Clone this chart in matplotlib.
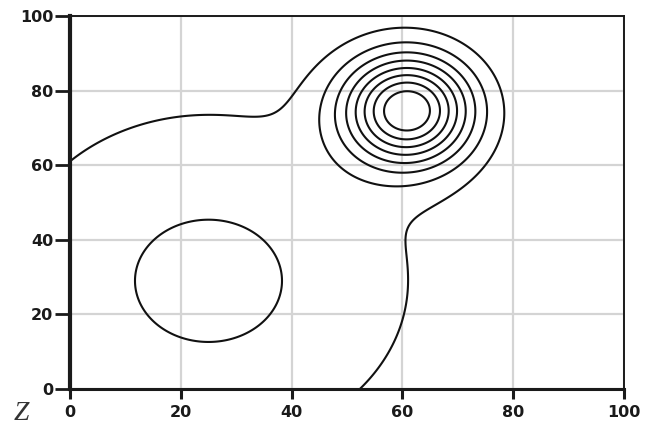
import numpy as np
import matplotlib
matplotlib.use("Agg")
import matplotlib.pyplot as plt

# Surface built from two Gaussian bumps: a broad one (lower left) and a sharp peak (upper right)
bump_x = [25.0, 61.0]          # centre x
bump_y = [29.0, 74.8]          # centre y
bump_sx = [28.9, 8.1]          # spread along x
bump_sy = [35.7, 10.3]         # spread along y
bump_amp = [1.0, 3.8]          # height

# Contour levels drawn
levels = [0.46, 0.90, 1.34, 1.78, 2.22, 2.66, 3.10, 3.54]

tick_vals = [0, 20, 40, 60, 80, 100]
tick_text = ["0", "20", "40", "60", "80", "100"]

xs = np.linspace(0, 100, 801)
ys = np.linspace(0, 100, 801)
X, Y = np.meshgrid(xs, ys)
Z = np.zeros_like(X)
for cx, cy, sx, sy, a in zip(bump_x, bump_y, bump_sx, bump_sy, bump_amp):
    Z += a * np.exp(-0.5 * (((X - cx) / sx) ** 2 + ((Y - cy) / sy) ** 2))

fig = plt.figure(figsize=(6.59, 4.25), dpi=100)
ax = fig.add_axes([0.1062, 0.0847, 0.8407, 0.8777])

ax.contour(X, Y, Z, levels=levels, colors="#111111", linewidths=1.5)

ax.set_xlim(0, 100)
ax.set_ylim(0, 100)
ax.set_xticks(tick_vals)
ax.set_yticks(tick_vals)
lbl = dict(fontsize=11.5, fontweight="bold", color="#222222", family="DejaVu Sans")
ax.set_xticklabels(tick_text, **lbl)
ax.set_yticklabels(tick_text, **lbl)

ax.grid(True, color="#d4d4d4", linewidth=1.6)
ax.set_axisbelow(True)

ax.spines["left"].set_linewidth(3.0)
ax.spines["bottom"].set_linewidth(2.2)
ax.spines["top"].set_linewidth(1.4)
ax.spines["right"].set_linewidth(1.4)
for s in ax.spines.values():
    s.set_color("#1a1a1a")

ax.tick_params(axis="y", direction="out", length=11, width=2, pad=1, colors="#1a1a1a")
ax.tick_params(axis="x", direction="out", length=7.5, width=2.2, pad=4, colors="#1a1a1a")

fig.text(0.020, 0.012, "Z", fontsize=20, fontstyle="italic",
         family=["Liberation Serif", "DejaVu Serif"], color="#333333")

fig.savefig("out.png", dpi=100)
